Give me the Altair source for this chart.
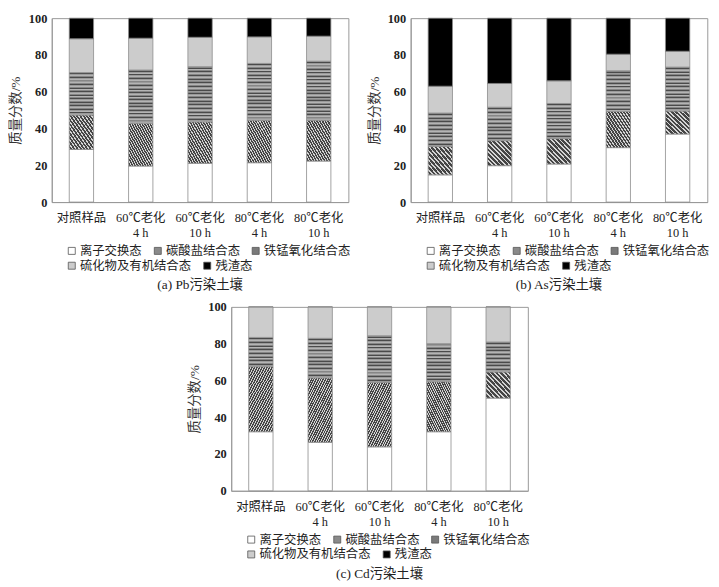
import altair as alt
import pandas as pd

samples = ["对照样品", "60℃老化|4 h", "60℃老化|10 h", "80℃老化|4 h", "80℃老化|10 h"]
fractions = ["离子交换态", "碳酸盐结合态", "铁锰氧化结合态", "硫化物及有机结合态", "残渣态"]

pb_ion = [28.6, 19.6, 21.1, 21.4, 22.3]
pb_carb = [18.7, 23.3, 22.5, 23.1, 22.2]
pb_femn = [23.1, 28.9, 30.0, 30.9, 32.1]
pb_org = [18.4, 17.3, 16.0, 14.4, 13.6]
pb_res = [11.2, 10.9, 10.4, 10.2, 9.8]

as_ion = [14.8, 19.8, 20.7, 29.6, 37.0]
as_carb = [15.4, 13.6, 13.8, 19.7, 12.5]
as_femn = [18.2, 18.2, 19.1, 22.1, 23.9]
as_org = [14.6, 12.9, 12.3, 9.0, 8.6]
as_res = [37.0, 35.5, 34.1, 19.6, 18.0]

cd_ion = [32.1, 26.4, 23.9, 32.1, 50.4]
cd_carb = [35.4, 35.0, 35.0, 27.2, 14.2]
cd_femn = [15.9, 21.5, 25.4, 20.7, 16.3]
cd_org = [16.6, 17.1, 15.7, 20.0, 19.1]
cd_res = [0.0, 0.0, 0.0, 0.0, 0.0]

captions = ["(a) Pb污染土壤", "(b) As污染土壤", "(c) Cd污染土壤"]
legend_colors = ["#ffffff", "#8a8a8a", "#7a7a7a", "#cccccc", "#000000"]

FONT = "Liberation Serif, Noto Sans CJK SC"
W, H = 300, 186
PAD_INNER = 0.59
BAR_W = W / len(samples) * (1 - PAD_INNER)
STROKE = "#8c8c8c"
HATCH_COLORS = ["#d4d4d4", "#d4d4d4", "#454545", "#454545", "#454545"]
FEMN_COLORS = ["#868686", "#4a4a4a", "#9a9a9a", "#b4b4b4"]


def stripes(n, colors, x1, y1, x2, y2):
    stops = []
    k = len(colors)
    for i in range(n):
        for j, c in enumerate(colors):
            a = (i + j / k) / n
            b = (i + (j + 1) / k) / n
            stops.append(alt.GradientStop(color=c, offset=round(a, 5)))
            stops.append(alt.GradientStop(color=c, offset=round(b, 5)))
    return alt.LinearGradient(gradient="linear", stops=stops, x1=x1, y1=y1, x2=x2, y2=y2)


def make_df(vals):
    rows = []
    for k, (f, arr) in enumerate(zip(fractions, vals)):
        for s, v in zip(samples, arr):
            rows.append({"sample": s, "fraction": f, "order": k, "value": v})
    return pd.DataFrame(rows)


def legend(x, y):
    return alt.Legend(title=None, orient="none", legendX=x, legendY=y,
                      direction="horizontal", symbolType="square", symbolSize=50,
                      symbolOpacity=1, symbolStrokeColor="#555555",
                      symbolStrokeWidth=0.8, labelFontSize=12.5, labelFont=FONT,
                      columnPadding=9, labelOffset=2, labelColor="#222222")


def panel(vals, caption):
    df = make_df(vals)
    base = alt.Chart(df).transform_stack(
        stack="value", groupby=["sample"], as_=["y0", "y1"],
        sort=[alt.SortField("order", order="ascending")]
    )
    x = alt.X(
        "sample:N", sort=samples,
        scale=alt.Scale(domain=samples, paddingInner=PAD_INNER, paddingOuter=PAD_INNER / 2),
        axis=alt.Axis(title=None, labelAngle=0, labelExpr="split(datum.label, '|')",
                      ticks=False, labelPadding=10, domainColor="#999999",
                      labelFontSize=12.5, labelLineHeight=15, labelColor="#222222"),
    )
    y = alt.Y(
        "y0:Q", scale=alt.Scale(domain=[0, 100], nice=False),
        axis=alt.Axis(title="质量分数/%", values=[0, 20, 40, 60, 80, 100], grid=False,
                      ticks=False, domainColor="#999999", labelFontWeight="bold",
                      labelFontSize=12.5, labelPadding=5, titleFontSize=13.5,
                      titleFontWeight="normal", titlePadding=6, labelColor="#222222",
                      titleColor="#333333"),
    )
    plain = {0: "#ffffff", 3: "#cccccc", 4: "#000000"}
    layers = []
    for k, f in enumerate(fractions):
        if k in plain:
            layers.append(
                base.transform_filter(alt.datum.fraction == f).mark_bar(
                    fill=plain[k], stroke=STROKE, strokeWidth=0.8
                ).encode(x=x, y=y, y2="y1:Q")
            )
            continue
        # patterned fractions: pattern density adapted to each bar's pixel size
        for s, v in zip(samples, vals[k]):
            side = max(BAR_W, v / 100 * H)
            if k == 1:
                fill = stripes(max(4, round(2 * side / 4.6)), HATCH_COLORS, 0, 1, 1, 0)
            else:
                fill = stripes(max(3, round(side / 3.6)), FEMN_COLORS, 0, 0, 0, 1)
            layers.append(
                base.transform_filter(
                    (alt.datum.fraction == f) & (alt.datum.sample == s)
                ).mark_bar(fill=fill, stroke=STROKE, strokeWidth=0.8
                           ).encode(x=x, y=y, y2="y1:Q")
            )
    leg1 = base.transform_filter(
        alt.FieldOneOfPredicate(field="fraction", oneOf=fractions[:3])
    ).mark_square(opacity=0).encode(
        x=x, y=y,
        color=alt.Color("fraction:N",
                        scale=alt.Scale(domain=fractions[:3], range=legend_colors[:3]),
                        legend=legend(14, H + 43)),
    )
    leg2 = base.transform_filter(
        alt.FieldOneOfPredicate(field="fraction", oneOf=fractions[3:])
    ).mark_square(opacity=0).encode(
        x=x, y=y,
        fill=alt.Fill("fraction:N",
                      scale=alt.Scale(domain=fractions[3:], range=legend_colors[3:]),
                      legend=legend(14, H + 58)),
    )
    return alt.layer(*layers, leg1, leg2).properties(
        width=W, height=H,
        title=alt.TitleParams(caption, orient="bottom", fontSize=13.5, font=FONT,
                              fontWeight="normal", offset=6, color="#222222"),
    )


pa = panel([pb_ion, pb_carb, pb_femn, pb_org, pb_res], captions[0])
pb = panel([as_ion, as_carb, as_femn, as_org, as_res], captions[1])
pc = panel([cd_ion, cd_carb, cd_femn, cd_org, cd_res], captions[2])

top = alt.hconcat(pa, pb, spacing=14).resolve_legend(
    color="independent", fill="independent").resolve_scale(
    color="independent", fill="independent")
chart = alt.vconcat(top, pc, spacing=8, center=True).resolve_legend(
    color="independent", fill="independent").resolve_scale(
    color="independent", fill="independent").properties(
    padding={"left": 0, "top": 0, "right": 0, "bottom": 0}
).configure(font=FONT).configure_axis(
    labelFont=FONT, titleFont=FONT
).configure_view(stroke="#999999", strokeWidth=1)

chart.save("out.html", embed_options={"renderer": "svg", "actions": False})
